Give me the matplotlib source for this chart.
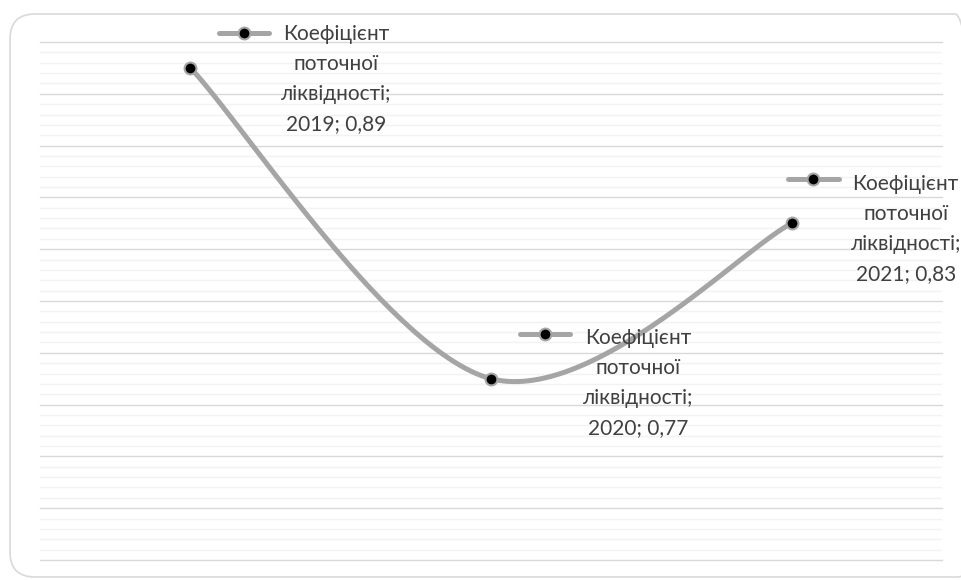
import numpy as np
import matplotlib.pyplot as plt
from matplotlib.patches import FancyBboxPatch
from matplotlib.lines import Line2D
from matplotlib.ticker import MultipleLocator

plt.rcParams['font.family'] = ['Lato', 'DejaVu Sans']

# дані
years = ['2019', '2020', '2021']
values = [0.89, 0.77, 0.83]
series_name = 'Коефіцієнт\nпоточної\nліквідності'

line_color = '#A5A5A5'
text_color = '#404040'


def excel_smooth(xs, ys, n=60):
    # згладжування як у Excel (кубічні Безьє, Catmull-Rom)
    pts = np.column_stack([xs, ys])
    out = []
    for i in range(len(pts) - 1):
        p0 = pts[i - 1] if i > 0 else pts[i]
        p1, p2 = pts[i], pts[i + 1]
        p3 = pts[i + 2] if i + 2 < len(pts) else pts[i + 1]
        c1 = p1 + (p2 - p0) / 6
        c2 = p2 - (p3 - p1) / 6
        t = np.linspace(0, 1, n)[:, None]
        seg = ((1 - t) ** 3 * p1 + 3 * (1 - t) ** 2 * t * c1
               + 3 * (1 - t) * t ** 2 * c2 + t ** 3 * p2)
        out.append(seg)
    out = np.vstack(out)
    return out[:, 0], out[:, 1]


fig = plt.figure(figsize=(9.61, 5.80), dpi=100)

# рамка з заокругленими кутами
frame = FancyBboxPatch((0.10, 0.03), 9.70, 5.63,
                       boxstyle='round,pad=0,rounding_size=0.25',
                       transform=fig.dpi_scale_trans,
                       facecolor='none', edgecolor='#D9D9D9', lw=1.2)
fig.patches.append(frame)

ax = fig.add_axes([40 / 961, 20 / 580, 902 / 961, 518 / 580])
ax.set_facecolor('none')

x = np.arange(len(years)) + 0.5
sx, sy = excel_smooth(x, np.array(values))
ax.plot(sx, sy, color=line_color, lw=3.6, solid_capstyle='round', zorder=3)
ax.plot(x, values, 'o', color='black', markersize=8.5,
        markeredgecolor=line_color, markeredgewidth=1.5, zorder=4)

ax.set_xlim(0, 3)
ax.set_ylim(0.70, 0.90)
ax.yaxis.set_major_locator(MultipleLocator(0.02))
ax.yaxis.set_minor_locator(MultipleLocator(0.004))
ax.grid(which='major', axis='y', color='#D9D9D9', lw=1.0)
ax.grid(which='minor', axis='y', color='#F2F2F2', lw=1.0)
ax.xaxis.grid(False)
for gl in ax.get_ygridlines():
    gl.set_clip_on(False)
ax.tick_params(which='both', left=False, bottom=False,
               labelleft=False, labelbottom=False)
for s in ax.spines.values():
    s.set_visible(False)

# підписи даних (зсув у пікселях від точки)
label_offsets = [(146, 44), (147, 51), (114, 49)]
for xi, v, yr, (dx, dy) in zip(x, values, years, label_offsets):
    txt = f'{series_name};\n{yr}; {v:.2f}'.replace('.', ',')
    ax.annotate(txt, xy=(xi, v), xytext=(dx, dy), textcoords='offset pixels',
                ha='center', va='top', fontsize=15, color=text_color,
                linespacing=1.63, zorder=5)

# ключ легенди біля першого рядка підпису
key_offsets = [(29, 79, 35), (29, 79, 45), (-4, 47, 44)]
inv = ax.transData.inverted()
for xi, v, (k0, k1, ky) in zip(x, values, key_offsets):
    px, py = ax.transData.transform((xi, v))
    a = inv.transform((px + k0, py + ky))
    b = inv.transform((px + k1, py + ky))
    ax.add_line(Line2D([a[0], b[0]], [a[1], b[1]], color=line_color, lw=3.6,
                       solid_capstyle='round', clip_on=False, zorder=5))
    ax.plot((a[0] + b[0]) / 2, a[1], 'o', color='black', markersize=8.5,
            markeredgecolor=line_color, markeredgewidth=1.5, clip_on=False,
            zorder=6)

fig.savefig('out.png', dpi=100)
